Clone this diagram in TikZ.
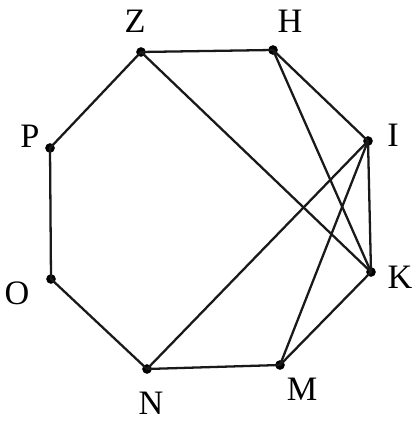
\documentclass[tikz,border=0pt]{standalone}
\usepackage{fontspec}
\setmainfont{Liberation Serif}
\begin{document}
\begin{tikzpicture}[x=0.02cm,y=-0.02cm,
  vtx/.style={circle,fill=black,inner sep=0pt,minimum size=5.5pt},
  lbl/.style={font=\fontsize{19.5}{19.5}\selectfont,inner sep=0pt},
  edge/.style={line width=1.3pt,black!90}]
\useasboundingbox (0,0) rectangle (416,421);
\node[vtx] (Z) at (141,52) {};
\node[vtx] (H) at (273,50) {};
\node[vtx] (I) at (368,141) {};
\node[vtx] (K) at (371,272) {};
\node[vtx] (M) at (280,365) {};
\node[vtx] (N) at (147,369) {};
\node[vtx] (O) at (51,279) {};
\node[vtx] (P) at (50,148) {};
\node[lbl] (lZ) at (135,21) {Z};
\node[lbl] (lH) at (290,21) {H};
\node[lbl] (lI) at (393,135) {I};
\node[lbl] (lK) at (400,277) {K};
\node[lbl] (lM) at (302,389) {M};
\node[lbl] (lN) at (151,403) {N};
\node[lbl] (lO) at (17,293) {O};
\node[lbl] (lP) at (30,136) {P};
\draw[edge] (Z.center) -- (H.center) -- (I.center) -- (K.center) -- (M.center) -- (N.center) -- (O.center) -- (P.center) -- (Z.center);
\draw[edge] (Z.center) -- (K.center);
\draw[edge] (H.center) -- (K.center);
\draw[edge] (I.center) -- (N.center);
\draw[edge] (I.center) -- (M.center);
\end{tikzpicture}
\end{document}
